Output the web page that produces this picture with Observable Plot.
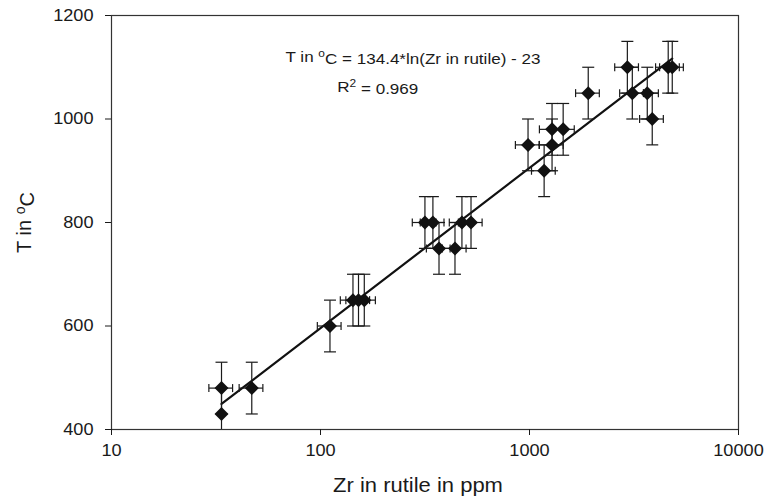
<!DOCTYPE html>
<html><head><meta charset="utf-8">
<script src="https://cdn.jsdelivr.net/npm/d3@7"></script>
<script src="https://cdn.jsdelivr.net/npm/@observablehq/plot@0.6"></script>
<style>body{margin:0;background:#fff} #chart svg{display:block}</style>
</head><body><div id="chart"></div>
<script>
// Zr in rutile (ppm) and temperature (°C)
const zr     = [33.6, 46.9, 33.6, 111, 143, 152, 162, 316, 345, 369, 440, 475, 525, 984, 1175, 1282, 1282, 1449, 1910, 2939, 3104, 3660, 3866, 4610, 4820];
const tempC  = [480,  480,  430,  600, 650, 650, 650, 800, 800, 750, 750, 800, 800, 950, 900,  950,  980,  980,  1050, 1100, 1050, 1050, 1000, 1100, 1100];
const xErrFrac = [0.13,0.13,0,   0.13,0.13,0.13,0.13,0.13,0.13,0.13,0.13,0.13,0.13,0.13,0.13,0.13,0.13,0.13,0.13,0.13,0.13,0.13,0.13,0.13,0.13];
const tErr = 50;
const xTicks = [10, 100, 1000, 10000];
const yTicks = [400, 600, 800, 1000, 1200];
const fitA = 134.4, fitB = -23;
const xLabel = "Zr in rutile in ppm";
const eqText = "T in oC = 134.4*ln(Zr in rutile) - 23";
const r2Text = "R2 = 0.969";
const yLabel = "T in oC";

const rows = zr.map((z, i) => ({zr: z, t: tempC[i], xe: xErrFrac[i]}));
const rowsX = rows.filter(d => d.xe > 0);
const zMin = d3.min(zr), zMax = d3.max(zr);
const fitLine = [zMin, zMax].map(z => ({zr: z, t: fitA * Math.log(z) + fitB}));

const capH = {draw(ctx) { ctx.moveTo(-6, 0); ctx.lineTo(6, 0); }};
const capV = {draw(ctx) { ctx.moveTo(0, -4); ctx.lineTo(0, 4); }};
const diamond = {draw(ctx) { ctx.moveTo(0, -7); ctx.lineTo(7, 0); ctx.lineTo(0, 7); ctx.lineTo(-7, 0); ctx.closePath(); }};

const font = "Liberation Sans, Arial, Helvetica, sans-serif";
const ink = "#1a1a1a";

const chart = Plot.plot({
  width: 766, height: 499,
  marginLeft: 111, marginRight: 28, marginTop: 15, marginBottom: 70,
  style: {fontFamily: font, color: ink, background: "#fff"},
  x: {type: "log", domain: [10, 10000]},
  y: {domain: [400, 1200]},
  marks: [
    Plot.frame({stroke: "#333", strokeWidth: 1.2}),
    Plot.axisX({ticks: xTicks, tickSize: 6, tickPadding: 9, tickFormat: d => String(d), fontSize: 16.5, label: null, stroke: ink}),
    Plot.axisY({ticks: yTicks, tickSize: 6, tickPadding: 12, tickFormat: d => String(d), fontSize: 16.5, label: null, stroke: ink}),
    Plot.line(fitLine, {x: "zr", y: "t", stroke: "#111", strokeWidth: 2.2}),
    Plot.link(rows, {x1: "zr", x2: "zr", y1: d => d.t - tErr, y2: d => d.t + tErr, stroke: ink, strokeWidth: 1.2, clip: true}),
    Plot.link(rowsX, {x1: d => d.zr * (1 - d.xe), x2: d => d.zr * (1 + d.xe), y1: "t", y2: "t", stroke: ink, strokeWidth: 1.2}),
    Plot.dot(rows, {x: "zr", y: d => d.t + tErr, symbol: capH, stroke: ink, fill: "none", strokeWidth: 1.2, clip: true}),
    Plot.dot(rows, {x: "zr", y: d => d.t - tErr, symbol: capH, stroke: ink, fill: "none", strokeWidth: 1.2, clip: true}),
    Plot.dot(rowsX, {x: d => d.zr * (1 - d.xe), y: "t", symbol: capV, stroke: ink, fill: "none", strokeWidth: 1.2}),
    Plot.dot(rowsX, {x: d => d.zr * (1 + d.xe), y: "t", symbol: capV, stroke: ink, fill: "none", strokeWidth: 1.2}),
    Plot.dot(rows, {x: "zr", y: "t", symbol: diamond, fill: "#111", stroke: "none"}),
    Plot.text([eqText], {x: 277, y: 1120, text: d => d, fontSize: 15.5, fill: ink, textAnchor: "middle"}),
    Plot.text([r2Text], {x: 188, y: 1062, text: d => d, fontSize: 15.5, fill: ink, textAnchor: "middle"}),
    Plot.text([xLabel], {frameAnchor: "bottom", dy: 62, dx: -7, text: d => d, fontSize: 20, fill: ink, textAnchor: "middle"}),
    Plot.text([yLabel], {frameAnchor: "left", dx: -87, rotate: -90, text: d => d, fontSize: 20, fill: ink, textAnchor: "middle"})
  ]
});
document.getElementById("chart").appendChild(chart);

// superscripts
function sup(str, before, supChar, after) {
  d3.select(chart).selectAll("text").each(function() {
    if (this.textContent === str) {
      const t = d3.select(this);
      t.text(null);
      t.append("tspan").text(before);
      t.append("tspan").attr("dy", "-0.45em").attr("font-size", "0.7em").text(supChar);
      t.append("tspan").attr("dy", "0.45em").text(after);
    }
  });
}
sup(eqText, "T in ", "o", "C = 134.4*ln(Zr in rutile) - 23");
sup(r2Text, "R", "2", " = 0.969");
sup(yLabel, "T in ", "o", "C");

// the reference lettering is slightly wider than tall: stretch horizontal text about its anchor x
d3.select(chart).selectAll("text").each(function() {
  const tr = this.getAttribute("transform") || "";
  if (tr.includes("rotate")) return;
  const ax = parseFloat(this.getAttribute("x")) || 0;
  this.setAttribute("transform", `${tr} translate(${ax},0) scale(1.1,1) translate(${-ax},0)`.trim());
});
</script>
</body></html>
